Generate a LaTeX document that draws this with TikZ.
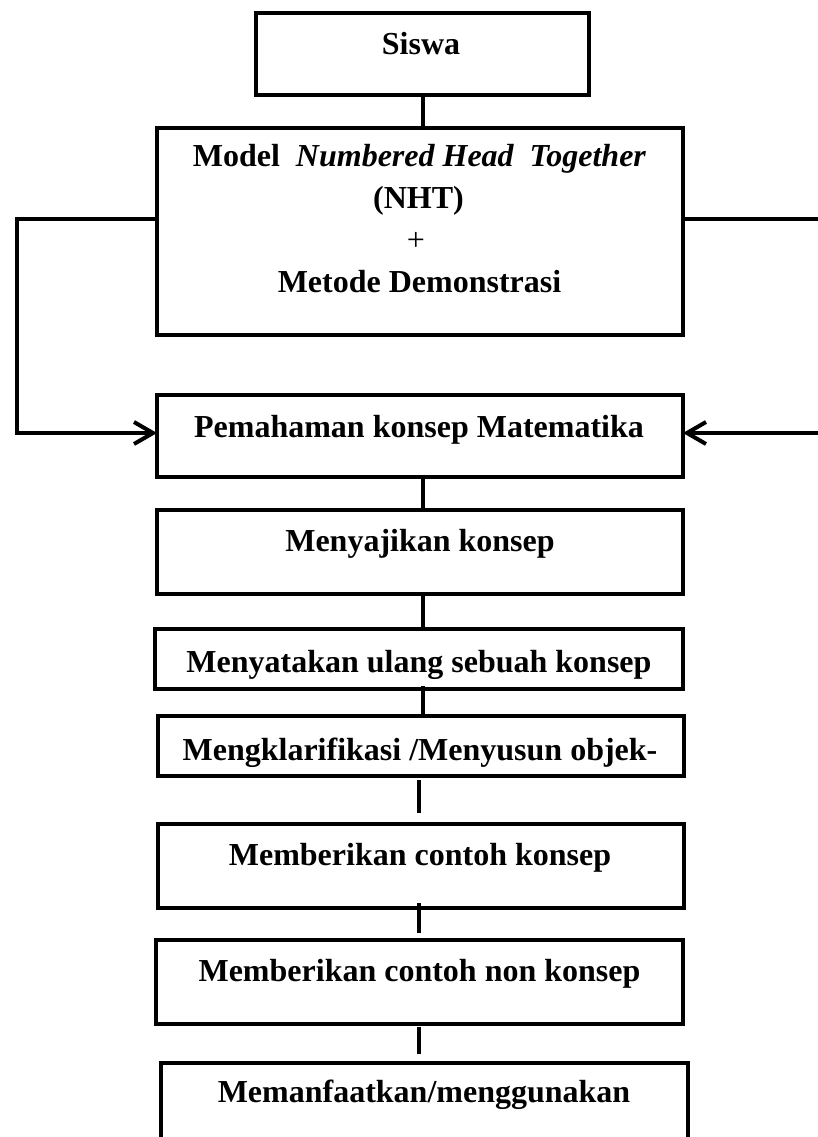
\documentclass[tikz,border=0pt]{standalone}
\usepackage{fontspec}
\setmainfont{Liberation Serif}
\usetikzlibrary{arrows.meta}
\begin{document}
\begin{tikzpicture}[x=1pt,y=-1pt,
  box/.style={draw, line width=3.5pt, rectangle, inner sep=0pt, outer sep=0pt},
  lbl/.style={font=\fontsize{32}{42}\selectfont\bfseries, inner sep=0pt, anchor=base},
  conn/.style={line width=4pt},
  arr/.style={line width=4pt, -{Straight Barb[length=19pt,width=22pt]}}]
\useasboundingbox (0,0) rectangle (818,1137);
% boxes
\node[box, minimum width=333pt, minimum height=82pt] (siswa) at (422.5,54) {};
\node[box, minimum width=526pt, minimum height=207pt] (model) at (420,231.5) {};
\node[box, minimum width=526pt, minimum height=82pt] (pem) at (420,436) {};
\node[box, minimum width=526pt, minimum height=84pt] (saji) at (420,552) {};
\node[box, minimum width=528pt, minimum height=60pt] (nyata) at (419,659) {};
\node[box, minimum width=526pt, minimum height=60pt] (klar) at (421,746) {};
\node[box, minimum width=526pt, minimum height=84pt] (contoh) at (421,866) {};
\node[box, minimum width=527pt, minimum height=84pt] (non) at (419.5,982) {};
\node[box, minimum width=527pt, minimum height=97pt] (manf) at (424.5,1111.5) {};
% texts
\node[lbl] (tsiswa) at (421,55) {Siswa};
\node[lbl] (tmodel) at (419.5,166) {Model\ \ \textit{Numbered Head\ \ Together}};
\node[lbl] (tnht) at (418.5,208) {(NHT)};
\node[lbl, font=\fontsize{32}{42}\selectfont] (tplus) at (416,250) {+};
\node[lbl] (tmetode) at (419.5,292) {Metode Demonstrasi};
\node[lbl] (tpem) at (419,437) {Pemahaman konsep Matematika};
\node[lbl] (tsaji) at (420,551) {Menyajikan konsep};
\node[lbl] (tnyata) at (419,672) {Menyatakan ulang sebuah konsep};
\node[lbl] (tklar) at (420,760) {Mengklarifikasi /Menyusun objek-};
\node[lbl] (tcontoh) at (420,865) {Memberikan contoh konsep};
\node[lbl] (tnon) at (419.5,981) {Memberikan contoh non konsep};
\node[lbl] (tmanf) at (424,1102) {Memanfaatkan/menggunakan};
% vertical connectors
\draw[conn] ([xshift=0.5pt]siswa.south) -- ([xshift=0.5pt]siswa.south |- model.north);
\draw[conn] ([xshift=3pt]pem.south) -- ([xshift=3pt]pem.south |- saji.north);
\draw[conn] ([xshift=3pt]saji.south) -- ([xshift=3pt]saji.south |- nyata.north);
\draw[conn, shorten <=-3pt] ([xshift=4pt]nyata.south) -- ([xshift=4pt]nyata.south |- klar.north);
\draw[conn, shorten <=4pt, shorten >=11pt] ([xshift=-2pt]klar.south) -- ([xshift=-2pt]klar.south |- contoh.north);
\draw[conn, shorten <=-5pt, shorten >=7pt] ([xshift=-2pt]contoh.south) -- ([xshift=-2pt]contoh.south |- non.north);
\draw[conn, shorten <=3pt, shorten >=9pt] ([xshift=-0.5pt]non.south) -- ([xshift=-0.5pt]non.south |- manf.north);
% side arrows
\coordinate (lc) at (17,0);
\coordinate (rc) at (830,0);
\coordinate (mL) at ([yshift=12.5pt]model.west);
\coordinate (mR) at ([yshift=12.5pt]model.east);
\coordinate (pL) at ([yshift=3pt]pem.west);
\coordinate (pR) at ([yshift=3pt]pem.east);
\draw[arr] (mL) -- (mL -| lc) -- (pL -| lc) -- (pL);
\draw[arr] (mR) -- (mR -| rc) -- (pR -| rc) -- (pR);
\end{tikzpicture}
\end{document}
